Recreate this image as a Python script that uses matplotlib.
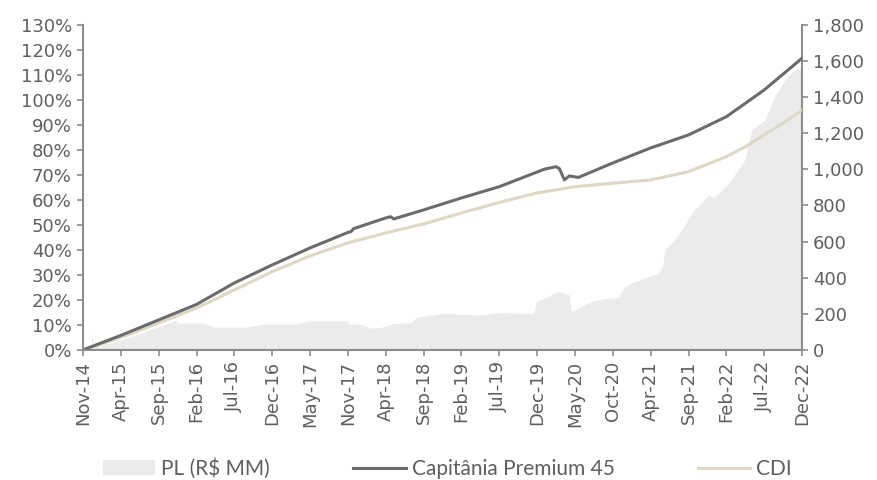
import matplotlib
matplotlib.use("Agg")
import matplotlib.pyplot as plt
from matplotlib.patches import Patch
from matplotlib.lines import Line2D
from matplotlib.ticker import FuncFormatter

plt.rcParams['font.family'] = ['DejaVu Sans']

# eixo x em "posicoes de rotulo" (categoria Excel, 20 rotulos igualmente espacados)
tick_labels = ["Nov-14", "Apr-15", "Sep-15", "Feb-16", "Jul-16", "Dec-16", "May-17",
               "Nov-17", "Apr-18", "Sep-18", "Feb-19", "Jul-19", "Dec-19", "May-20",
               "Oct-20", "Apr-21", "Sep-21", "Feb-22", "Jul-22", "Dec-22"]

# Capitania Premium 45 (% acumulado)
cap_x = [0, 1.0, 2.0, 3.0, 4.0, 5.0, 6.0, 7.0, 7.08, 7.15, 8.0, 8.13, 8.21, 9.0,
         10.0, 11.0, 11.92, 12.19, 12.5, 12.59, 12.72, 12.85, 13.09, 14.0, 15.0,
         16.0, 17.0, 18.0, 19.0]
cap_y = [0, 5.8, 12.0, 18.2, 26.8, 34.0, 40.8, 47.0, 47.3, 48.5, 52.8, 53.3, 52.4, 56.0,
         60.8, 65.3, 70.7, 72.3, 73.3, 72.5, 68.0, 69.6, 69.0, 74.8, 80.8,
         86.0, 93.3, 104.0, 116.7]

# CDI (% acumulado)
cdi_x = [0, 0.5, 1, 1.5, 2, 2.5, 3, 3.5, 4, 5, 6, 7, 8, 9, 10, 11, 12, 13, 14,
         15, 16, 17, 17.5, 18, 18.5, 19]
cdi_y = [0, 2.4, 5.0, 7.8, 10.8, 13.7, 16.8, 20.3, 24.0, 31.3, 37.6, 42.8, 46.8, 50.4,
         54.8, 59.0, 62.8, 65.3, 66.7, 68.0, 71.3, 77.3, 81.3, 86.0, 90.8, 96.0]

# PL (R$ MM)
pl_x = [0, 0.21, 0.24, 0.27, 0.5, 1.0, 1.5, 2.0, 2.3, 2.45, 2.5, 3.18, 3.44, 4.35,
        4.56, 4.69, 5.56, 5.75, 6.01, 7.0, 7.02, 7.39, 7.6, 7.87, 8.21, 8.66, 8.8,
        9.54, 10.44, 10.52, 10.92, 11.92, 11.98, 12.24, 12.56, 12.85, 12.9, 13.43,
        13.7, 14.15, 14.31, 14.57, 15.21, 15.32, 15.37, 15.63, 15.82, 16.08, 16.53,
        16.67, 17.06, 17.49, 17.67, 18.02, 18.28, 18.6, 18.81, 19.0]
pl_y = [5, 10, 90, 15, 25, 55, 90, 130, 150, 165, 148, 148, 126, 126,
        135, 142, 142, 150, 160, 162, 144, 140, 120, 125, 145, 150, 180,
        203, 194, 194, 205, 203, 268, 290, 323, 305, 212, 268,
        282, 292, 351, 378, 425, 462, 554, 609, 665, 757, 859,
        842, 923, 1053, 1219, 1274, 1403, 1514, 1551, 1560]

txt = '#5f5f5f'
axc = '#8c8c8c'
cap_col = '#6b6b6b'
cdi_col = '#ddd8c3'
pl_col = '#ebebeb'

fig = plt.figure(figsize=(8.78, 4.80), dpi=100)
ax = fig.add_axes([0.0945, 0.271, 0.819, 0.677])
ax2 = ax.twinx()

# area do PL fica atras das linhas
ax.set_zorder(ax2.get_zorder() + 1)
ax.patch.set_visible(False)

ax2.fill_between(pl_x, pl_y, 0, color=pl_col, lw=0)
ax.plot(cdi_x, cdi_y, color=cdi_col, lw=2.2)
ax.plot(cap_x, cap_y, color=cap_col, lw=2.2)

ax.set_xlim(0, 19)
ax.set_ylim(0, 130)
ax2.set_ylim(0, 1800)
ax.set_yticks(range(0, 131, 10))
ax2.set_yticks(range(0, 1801, 200))
ax.yaxis.set_major_formatter(FuncFormatter(lambda v, p: f"{v:.0f}%"))
ax2.yaxis.set_major_formatter(FuncFormatter(lambda v, p: f"{v:,.0f}"))
ax.set_xticks(range(len(tick_labels)))
ax.set_xticklabels(tick_labels, rotation=90)

for a in (ax, ax2):
    for s in a.spines.values():
        s.set_visible(False)
    a.tick_params(colors=axc, labelcolor=txt, labelsize=13, length=4, width=1.2, pad=4)
ax.spines['left'].set_visible(True)
ax.spines['bottom'].set_visible(True)
ax2.spines['right'].set_visible(True)
for s in (ax.spines['left'], ax.spines['bottom'], ax2.spines['right']):
    s.set_color(axc)
    s.set_linewidth(1.5)

handles = [Patch(facecolor=pl_col, edgecolor='none'),
           Line2D([], [], color=cap_col, lw=2.2),
           Line2D([], [], color=cdi_col, lw=2.2)]
labels = ["PL (R$ MM)", "Capitânia Premium 45", "CDI"]
fig.legend(handles, labels, loc='center left', bbox_to_anchor=(0.096, 0.024),
           ncol=3, frameon=False, labelcolor=txt,
           prop={'family': 'Lato', 'size': 15},
           handlelength=2.5, handletextpad=0.3, columnspacing=4.0)

fig.savefig("out.png", dpi=100)
